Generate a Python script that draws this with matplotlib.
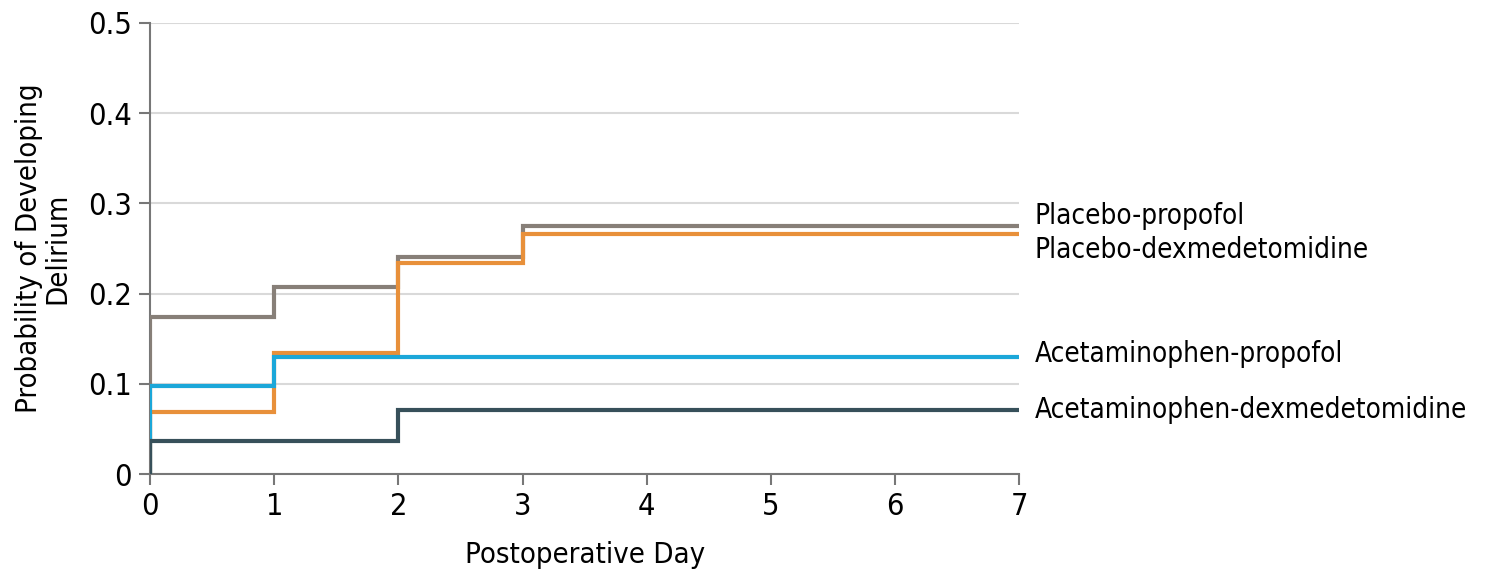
import matplotlib
matplotlib.use("Agg")
import matplotlib.pyplot as plt

plt.rcParams['font.family'] = ['DejaVu Sans']
plt.rcParams['font.stretch'] = 'condensed'

days = [0, 1, 2, 3, 7]
groups = ['Placebo-propofol', 'Placebo-dexmedetomidine',
          'Acetaminophen-propofol', 'Acetaminophen-dexmedetomidine']
# cumulative probability at each day (step after)
placebo_propofol = [0.174, 0.207, 0.241, 0.275, 0.275]
placebo_dexmed = [0.069, 0.134, 0.234, 0.266, 0.266]
acet_propofol = [0.098, 0.130, 0.130, 0.130, 0.130]
acet_dexmed = [0.037, 0.037, 0.071, 0.071, 0.071]
label_y = [0.286, 0.248, 0.133, 0.071]

colors = ['#877f78', '#e8903a', '#1ba7d9', '#37505a']
series = [placebo_propofol, placebo_dexmed, acet_propofol, acet_dexmed]

fig = plt.figure(figsize=(14.86, 5.72), dpi=100)
ax = fig.add_axes([0.101, 0.171, 0.585, 0.789])

for vals, c in zip(series, colors):
    ax.step([0] + days, [0] + vals, where='post', color=c, lw=3, solid_joinstyle='miter', zorder=3)

for name, y in zip(groups, label_y):
    ax.annotate(name, xy=(7, y), xytext=(11, 0), textcoords='offset points',
                va='center', ha='left', fontsize=20, annotation_clip=False)

ax.set_xlim(0, 7)
ax.set_ylim(0, 0.5)
ax.set_xticks(range(8))
ax.set_yticks([0, 0.1, 0.2, 0.3, 0.4, 0.5])
ax.set_yticklabels(['0', '0.1', '0.2', '0.3', '0.4', '0.5'])
ax.yaxis.grid(True, color='#d9d9d9', lw=1.5)
ax.set_axisbelow(True)
for s in ['top', 'right']:
    ax.spines[s].set_visible(False)
for s in ['left', 'bottom']:
    ax.spines[s].set_color('#777777')
    ax.spines[s].set_linewidth(1.5)
ax.tick_params(direction='out', length=8, width=1.5, color='#777777', labelsize=22, pad=5)
ax.set_xlabel('Postoperative Day', fontsize=21, labelpad=14)
ax.set_ylabel('Probability of Developing\nDelirium', fontsize=21, labelpad=12, linespacing=1.0)

fig.savefig('out.png', dpi=100)
